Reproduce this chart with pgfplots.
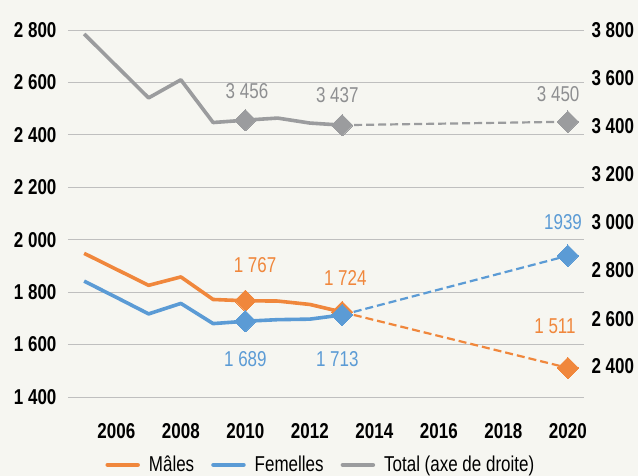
\documentclass[border=0pt]{standalone}
\usepackage{pgfplots}
\pgfplotsset{compat=1.18}
\usepackage{fontspec}
\setmainfont{Liberation Sans}[FakeStretch=0.79]
\definecolor{bg}{HTML}{F6F6F1}
\definecolor{cOr}{HTML}{F0873C}
\definecolor{cBl}{HTML}{5B9BD5}
\definecolor{cGr}{HTML}{9B9C9E}
\definecolor{cGrT}{HTML}{8E8F91}
\definecolor{grid}{HTML}{3A3A3A}
\newcommand{\tk}{\fontsize{21.5}{23}\selectfont\bfseries}
\newcommand{\lb}{\fontsize{21.5}{23}\selectfont}
\pgfplotsset{
  solidline/.style={line width=3.6pt, line join=round, mark=square*,
    mark options={rotate=45, solid, fill=#1, draw=#1, line width=0pt}, mark size=7.6pt, color=#1},
  dashline/.style={line width=2.2pt, dash pattern=on 8pt off 4pt, mark=square*,
    mark options={rotate=45, solid, fill=#1, draw=#1, line width=0pt}, mark size=7.6pt, color=#1},
}
\begin{document}
\begin{tikzpicture}
\fill[bg] (-68pt,-79pt) rectangle (570pt,397pt);
\begin{axis}[
  at={(0pt,0pt)}, anchor=south west,
  scale only axis, width=516pt, height=367pt,
  xmin=2004.5, xmax=2020.5, ymin=1400, ymax=2800,
  axis y line*=left, axis x line*=bottom,
  axis line style={draw=none},
  major tick length=0pt, tick style={draw=none},
  xtick={2006,2008,...,2020},
  xticklabels={2006,2008,2010,2012,2014,2016,2018,2020},
  ytick={1400,1600,...,2800},
  yticklabels={1 400,1 600,1 800,2 000,2 200,2 400,2 600,2 800},
  xmajorgrids=false, ymajorgrids=true, grid style={grid, line width=0.9pt},
  xticklabel style={font=\tk, yshift=-23pt},
  yticklabel style={font=\tk, xshift=-8pt},
  clip=false,
  legend style={at={(0.49,-0.185)}, anchor=center, draw=none, fill=none,
    legend columns=3, font=\lb,
    /tikz/every even column/.append style={column sep=15pt},
    /tikz/every odd column/.append style={column sep=7pt}},
  legend image code/.code={\draw[#1, line width=4.5pt, line cap=round] (0pt,0pt) -- (30pt,0pt);},
]
% Males
\addplot[solidline=cOr, mark indices={6,9}]
  coordinates {(2005,1948) (2006,1887) (2007,1826) (2008,1858) (2009,1772) (2010,1767) (2011,1766) (2012,1753) (2013,1724)};
\addlegendentry{Mâles}
\addplot[dashline=cOr, mark indices={2}, forget plot]
  coordinates {(2013,1724) (2020,1511)};
% Females
\addplot[solidline=cBl, mark indices={6,9}]
  coordinates {(2005,1842) (2006,1780) (2007,1717) (2008,1757) (2009,1680) (2010,1689) (2011,1695) (2012,1697) (2013,1713)};
\addlegendentry{Femelles}
\addplot[dashline=cBl, mark indices={2}, forget plot]
  coordinates {(2013,1713) (2020,1939)};
\addlegendimage{cGr}
\addlegendentry{Total (axe de droite)}
\node[cOr, font=\lb] at (axis cs:2010.3,1902) {1 767};
\node[cOr, font=\lb] at (axis cs:2013.1,1855) {1 724};
\node[cBl, font=\lb] at (axis cs:2010,1543) {1 689};
\node[cBl, font=\lb] at (axis cs:2012.85,1543) {1 713};
\node[cBl, font=\lb] at (axis cs:2019.85,2068) {1939};
\node[cOr, font=\lb] at (axis cs:2019.6,1670) {1 511};
\end{axis}
\begin{axis}[
  at={(0pt,0pt)}, anchor=south west,
  scale only axis, width=516pt, height=367pt,
  xmin=2004.5, xmax=2020.5, ymin=2400, ymax=3800,
  axis y line*=right, axis x line=none, xtick=\empty,
  axis line style={draw=none}, xmajorgrids=false, ymajorgrids=false,
  major tick length=0pt, tick style={draw=none},
  ytick={3800,3617,3433,3250,3066,2883,2699,2516},
  yticklabels={3 800,3 600,3 400,3 200,3 000,2 800,2 600,2 400},
  yticklabel style={font=\tk, xshift=4pt},
  clip=false,
]
\addplot[solidline=cGr, mark indices={6,9}]
  coordinates {(2005,3785) (2006,3663) (2007,3541) (2008,3610) (2009,3447) (2010,3456) (2011,3464) (2012,3445) (2013,3437)};
\addplot[dashline=cGr, mark indices={2}]
  coordinates {(2013,3437) (2020,3450)};
\node[cGrT, font=\lb] at (axis cs:2010.05,3567) {3 456};
\node[cGrT, font=\lb] at (axis cs:2012.85,3550) {3 437};
\node[cGrT, font=\lb] at (axis cs:2019.7,3557) {3 450};
\end{axis}
\pgfresetboundingbox
\path[use as bounding box] (-68pt,-79pt) rectangle (570pt,397pt);
\end{tikzpicture}
\end{document}
